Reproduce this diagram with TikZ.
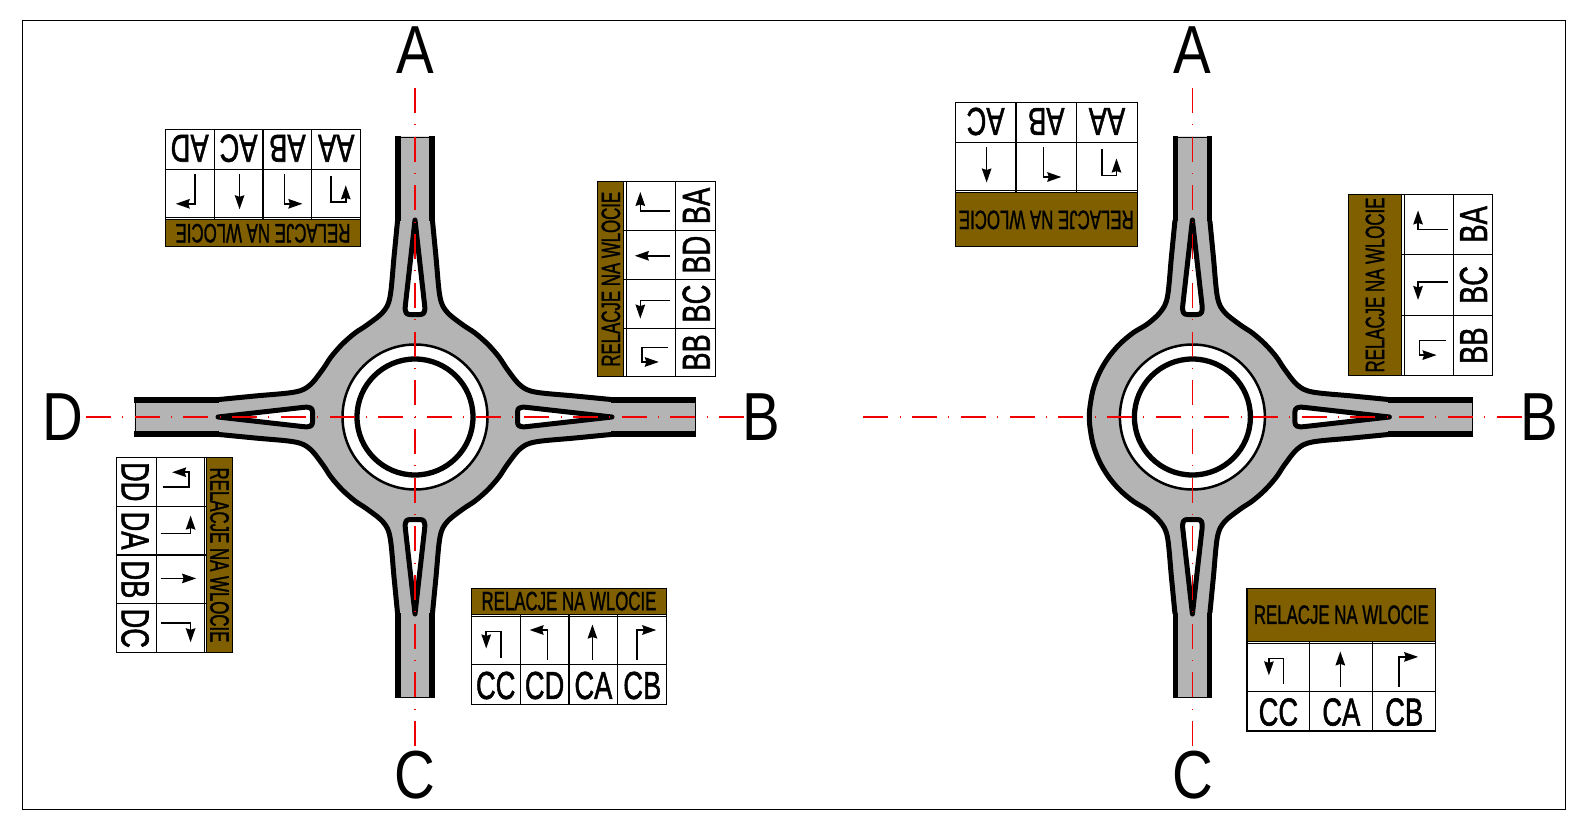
\documentclass[tikz,border=0pt]{standalone}
\usepackage{fontspec}
\usepackage{graphicx}
\setmainfont{Liberation Sans}
\newfontfamily\tabfont{Liberation Sans}[FakeBold=1.6]
\usetikzlibrary{arrows.meta}
\definecolor{roadgray}{HTML}{B4B4B4}
\definecolor{headbrown}{HTML}{7F5F00}
\definecolor{axisred}{HTML}{F00000}
\tikzset{
  axisline/.style={axisred,line width=1.1pt,dash pattern=on 25pt off 11.35pt on 1pt off 11.35pt},
  roadfill/.style={fill=roadgray,draw=roadgray,line width=.5pt},
  curb/.style={black,line width=5pt,line join=round},
  armcurb/.style={black,line width=5.4pt},
  endline/.style={black,line width=.9pt},
  island/.style={draw=black,fill=white,line width=5pt,line join=round},
  gridline/.style={black,line width=1.1pt},
  relarrow/.style={black,line width=1.6pt,-{Stealth[length=14pt,width=9.5pt,inset=1.5pt]}},
  plain/.style={inner sep=0pt,outer sep=0pt,transform shape},
  bigletter/.style={inner sep=0pt,outer sep=0pt,font=\fontsize{68}{70}\selectfont},
}
% arrow glyphs, relative to the cell centre
\newcommand{\glyphU}{\draw[relarrow] (5,17) -- (5,-9) -- (-9.5,-9) -- (-9.5,8);}
\newcommand{\glyphL}{\draw[relarrow] (3,19.5) -- (3,-10.5) -- (-15,-10.5);}
\newcommand{\glyphS}{\draw[relarrow] (-1,19.5) -- (-1,-16);}
\newcommand{\glyphR}{\draw[relarrow] (-5,19.5) -- (-5,-10.5) -- (14,-10.5);}
% #1 name, #2 cx, #3 cy, #4 rotation, #5 columns, #6 cell width, #7 header h, #8 arrow h, #9 label h, then cells
\newcommand{\reltable}[9]{%
  \def\tabname{#1}\def\tabcx{#2}\def\tabcy{#3}\def\tabrot{#4}\def\tabn{#5}%
  \def\tabw{#6}\def\tabh{#7}\def\taba{#8}\def\tabl{#9}\reltablecont}
\newcommand{\reltablecont}[1]{%
  \pgfmathsetmacro{\TW}{\tabn*\tabw}%
  \pgfmathsetmacro{\TH}{\tabh+2.4+\taba+\tabl}%
  \pgfmathsetmacro{\TY}{\tabh+2.4}%
  \pgfmathsetmacro{\TZ}{\tabh+2.4+\taba}%
  \begin{scope}[shift={(\tabcx,\tabcy)},rotate=\tabrot,shift={(-\TW/2,-\TH/2)}]
    \fill[white] (0,0) rectangle (\TW,\TH);
    \filldraw[fill=headbrown,draw=black,line width=1.1pt] (0,0) rectangle (\TW,\tabh);
    \node[plain] (\tabname-head) at (\TW/2,\tabh/2)
      {\tabfont\fontsize{26.5}{28}\selectfont\scalebox{.635}[1]{RELACJE NA WLOCIE}};
    \draw[gridline] (0,\tabh) -- (0,\TH) -- (\TW,\TH) -- (\TW,\tabh);
    \draw[gridline] (0,\TY) -- (\TW,\TY);
    \draw[gridline] (0,\TZ) -- (\TW,\TZ);
    \foreach \lab/\kind [count=\i] in {#1}{%
      \pgfmathsetmacro{\cxx}{(\i-.5)*\tabw}%
      \pgfmathsetmacro{\lxx}{\i*\tabw}%
      \pgfmathsetmacro{\ayy}{\TY+\taba/2}%
      \pgfmathsetmacro{\lyy}{\TZ+\tabl/2+1}%
      \ifnum\i<\tabn\relax
        \draw[gridline] (\lxx,\tabh) -- (\lxx,\TH);
      \fi
      \begin{scope}[shift={(\cxx,\ayy)}]
        \csname glyph\kind\endcsname
      \end{scope}
      \node[plain] (\tabname-\lab) at (\cxx,\lyy)
        {\tabfont\fontsize{39}{41}\selectfont\scalebox{.7}[1]{\lab}};
    }
  \end{scope}}
% one quadrant of the road, between two arms
\newcommand{\roadquad}[2]{%
  \begin{scope}[xscale=#1,yscale=#2]
    \path[roadfill] (0,0) -- (0,-280) -- (-17,-280) -- (-17,-196)
      -- plot[smooth,tension=.55] coordinates {(-17.5,-196) (-21,-160) (-25,-120) (-32,-105) (-48,-92) (-60,-84) (-72.8,-72.8) (-84,-60) (-92,-48) (-105,-32) (-120,-25) (-160,-21) (-196,-17.5)}
      -- (-280,-17) -- (-280,0) -- cycle;
    \draw[curb] plot[smooth,tension=.55] coordinates {(-17.5,-196) (-21,-160) (-25,-120) (-32,-105) (-48,-92) (-60,-84) (-72.8,-72.8) (-84,-60) (-92,-48) (-105,-32) (-120,-25) (-160,-21) (-196,-17.5)};
    \draw[armcurb] (-17,-196) -- (-17,-281);
    \draw[armcurb] (-196,-17) -- (-281,-17);
  \end{scope}}
% one quadrant on the side that has no arm
\newcommand{\sidequad}[1]{%
  \begin{scope}[yscale=#1]
    \path[roadfill] (0,0) -- (0,-280) -- (-17,-280) -- (-17,-196)
      -- plot[smooth,tension=.55] coordinates {(-17.5,-196) (-21,-160) (-25,-120) (-32,-105) (-45,-93) (-59,-84.4) (-72.8,-72.8) (-84.4,-59) (-93.4,-43.5) (-99.5,-26.7) (-102.6,-9) (-103,0)}
      -- cycle;
    \draw[curb,line cap=round] plot[smooth,tension=.55] coordinates {(-17.5,-196) (-21,-160) (-25,-120) (-32,-105) (-45,-93) (-59,-84.4) (-72.8,-72.8) (-84.4,-59) (-93.4,-43.5) (-99.5,-26.7) (-102.6,-9) (-103,0)};
    \draw[armcurb] (-17,-196) -- (-17,-281);
  \end{scope}}
\newcommand{\splitter}[1]{%
  \begin{scope}[rotate=#1]
    \path[island] (0,-197) -- (9.6,-112) .. controls (10.4,-105) and (9,-102.5) .. (5,-102.5)
      -- (-5,-102.5) .. controls (-9,-102.5) and (-10.4,-105) .. (-9.6,-112) -- cycle;
  \end{scope}}
\newcommand{\rings}{%
  \draw[fill=white,draw=black,line width=2.5pt] (0,0) circle[radius=72.5];
  \draw[fill=white,draw=black,line width=5.3pt] (0,0) circle[radius=58];}
\begin{document}
\begin{tikzpicture}[x=1pt,y=-1pt]
\useasboundingbox (0,0) rectangle (1587,829);
\fill[white] (0,0) rectangle (1587,829);
\draw[black,line width=1pt] (22.7,20.3) rectangle (1565.7,809.3);

% left roundabout
\begin{scope}[shift={(415,417)}]
  \roadquad{1}{1}\roadquad{-1}{1}\roadquad{1}{-1}\roadquad{-1}{-1}
  \draw[endline] (-17,-280) -- (17,-280);
  \draw[endline] (-17,280) -- (17,280);
  \draw[endline] (-280,-17) -- (-280,17);
  \draw[endline] (280,-17) -- (280,17);
  \rings
  \splitter{0}\splitter{90}\splitter{180}\splitter{270}
  \draw[axisline] (0,-329) -- (0,330);
  \draw[axisline] (-329,0) -- (330,0);
\end{scope}

% right roundabout
\begin{scope}[shift={(1192.4,417)}]
  \sidequad{1}\sidequad{-1}\roadquad{-1}{1}\roadquad{-1}{-1}
  \draw[endline] (-17,-280) -- (17,-280);
  \draw[endline] (-17,280) -- (17,280);
  \draw[endline] (280,-17) -- (280,17);
  \rings
  \splitter{0}\splitter{270}\splitter{180}
  \draw[axisline] (0,-329) -- (0,330);
  \draw[axisline] (-329,0) -- (330,0);
\end{scope}

% tables
\reltable{sl}{569}{646.3}{0}{4}{48.85}{26}{48}{40}{CC/U,CD/L,CA/S,CB/R}
\reltable{nl}{263}{188}{180}{4}{48.85}{27}{48}{40}{AA/U,AB/L,AC/S,AD/R}
\reltable{wl}{174.3}{555}{-90}{4}{48.85}{26}{48}{40}{DD/U,DA/L,DB/S,DC/R}
\reltable{el}{656.6}{279.2}{90}{4}{48.85}{26}{49}{40}{BB/U,BC/L,BD/S,BA/R}
\reltable{nr}{1046.3}{174.7}{180}{3}{60.67}{54}{48}{40}{AA/U,AB/L,AC/S}
\reltable{er}{1420.2}{285}{90}{3}{60.6}{53.3}{49}{39}{BB/U,BC/L,BA/R}
\reltable{sr}{1341.3}{659.6}{0}{3}{62.9}{53}{47.5}{39.8}{CC/U,CA/S,CB/R}

% approach letters
\node[bigletter] (lA) at (415,50.5) {\scalebox{.83}[1]{A}};
\node[bigletter] (lC) at (415,775) {\scalebox{.83}[1]{C}};
\node[bigletter] (lD) at (62.8,417) {\scalebox{.83}[1]{D}};
\node[bigletter] (lB) at (761.5,417) {\scalebox{.83}[1]{B}};
\node[bigletter] (rA) at (1192.4,50.5) {\scalebox{.83}[1]{A}};
\node[bigletter] (rC) at (1192.4,775) {\scalebox{.83}[1]{C}};
\node[bigletter] (rB) at (1539,417) {\scalebox{.83}[1]{B}};
\end{tikzpicture}
\end{document}
